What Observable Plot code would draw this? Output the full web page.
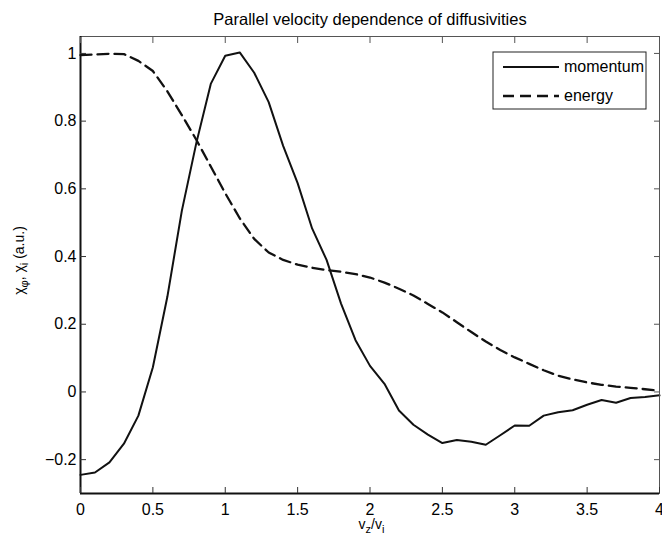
<!DOCTYPE html>
<html><head><meta charset="utf-8">
<script src="https://cdn.jsdelivr.net/npm/d3@7"></script>
<script src="https://cdn.jsdelivr.net/npm/@observablehq/plot@0.6"></script>
<style>body{margin:0;background:#fff}</style>
</head><body><div id="chart"></div>
<script>
const vz = [0,0.1,0.2,0.3,0.4,0.5,0.6,0.7,0.8,0.9,1.0,1.1,1.2,1.3,1.4,1.5,1.6,1.7,1.8,1.9,2.0,
            2.1,2.2,2.3,2.4,2.5,2.6,2.7,2.8,2.9,3.0,3.1,3.2,3.3,3.4,3.5,3.6,3.7,3.8,3.9,4.0];
const momentum = [-0.245,-0.238,-0.208,-0.153,-0.070,0.073,0.281,0.535,0.735,0.910,0.993,
                  1.003,0.943,0.856,0.727,0.617,0.483,0.390,0.261,0.153,0.077,
                  0.024,-0.055,-0.097,-0.126,-0.151,-0.142,-0.147,-0.156,-0.128,-0.099,
                  -0.100,-0.070,-0.060,-0.054,-0.038,-0.024,-0.032,-0.018,-0.015,-0.010];
const energy = [0.995,0.997,0.999,0.998,0.978,0.948,0.888,0.818,0.745,0.666,0.587,
                0.513,0.452,0.412,0.390,0.376,0.367,0.360,0.355,0.348,0.338,
                0.323,0.305,0.285,0.260,0.235,0.206,0.177,0.149,0.124,0.102,
                0.083,0.064,0.048,0.037,0.028,0.021,0.016,0.012,0.008,0.004];
const seriesNames = ["momentum", "energy"];
const xTicks = [0,0.5,1,1.5,2,2.5,3,3.5,4];
const yTicks = [-0.2,0,0.2,0.4,0.6,0.8,1];
const xDomain = [0,4];
const yDomain = [-0.3,1.05];
const title = "Parallel velocity dependence of diffusivities";

const rows = vz.map((v,i)=>({v, momentum: momentum[i], energy: energy[i]}));
const FONT = "'Liberation Sans', Arial, Helvetica, sans-serif";
const fmt = d => String(d).replace("-", "\u2212");

const chart = Plot.plot({
  width: 662, height: 537,
  marginLeft: 80, marginRight: 3, marginTop: 36, marginBottom: 44,
  style: {fontFamily: FONT, fontSize: "16px", color: "#000", background: "#fff"},
  x: {domain: xDomain},
  y: {domain: yDomain},
  marks: [
    Plot.line(rows, {x: "v", y: "energy", stroke: "#111", strokeWidth: 2.3, strokeDasharray: "11,6"}),
    Plot.line(rows, {x: "v", y: "momentum", stroke: "#111", strokeWidth: 2}),
    Plot.frame({stroke: "#555", strokeWidth: 1}),
    Plot.ruleX([xDomain[0]], {stroke: "#111", strokeWidth: 2}),
    Plot.ruleY([yDomain[0]], {stroke: "#111", strokeWidth: 2}),
    Plot.axisX(xTicks, {anchor: "bottom", tickSize: 6, dy: -6, fill: "none", stroke: "#333", label: null}),
    Plot.axisX(xTicks, {anchor: "top", tickSize: 6, dy: 6, fill: "none", stroke: "#555", label: null}),
    Plot.axisY(yTicks, {anchor: "left", tickSize: 6, dx: 6, fill: "none", stroke: "#333", label: null}),
    Plot.axisY(yTicks, {anchor: "right", tickSize: 6, dx: -6, fill: "none", stroke: "#555", label: null}),
    Plot.axisX(xTicks, {anchor: "bottom", tickSize: 0, tickPadding: 10, label: null, fontSize: 16, tickFormat: fmt}),
    Plot.axisY(yTicks, {anchor: "left", tickSize: 0, tickPadding: 4, label: null, fontSize: 16, tickFormat: fmt}),
    Plot.text([title], {text: d => d, frameAnchor: "top", dy: -12, lineAnchor: "bottom", fontSize: 16.5})
  ]
});
document.getElementById("chart").appendChild(chart);

const svg = d3.select(chart);
const sx = chart.scale("x"), sy = chart.scale("y");
const fx0 = sx.range[0], fx1 = sx.range[1];
const fyB = sy.range[0], fyT = sy.range[1];

// subscript-capable label helper
function richText(g, parts, size, subSize) {
  const t = g.append("text").attr("text-anchor", "middle").attr("font-family", FONT)
    .attr("font-size", size).attr("fill", "#000");
  let shifted = false;
  parts.forEach(([s, sub]) => {
    const ts = t.append("tspan").text(s);
    if (sub) { ts.attr("font-size", subSize).attr("dy", shifted ? 0 : 4); shifted = true; }
    else { ts.attr("dy", shifted ? -4 : 0); shifted = false; }
  });
  return t;
}
// y label
const gy = svg.append("g").attr("transform", `translate(${fx0 - 60},${(fyB + fyT) / 2 - 4}) rotate(-90)`);
richText(gy, [["χ"],["φ",1],[", χ"],["i",1],[" (a.u.)"]], 14, 11).attr("y", 4);
// x label
const gx = svg.append("g").attr("transform", `translate(${(fx0 + fx1) / 2 + 2},${fyB + 36})`);
richText(gx, [["v"],["z",1],["/v"],["i",1]], 14, 11);

// legend
const lg = svg.append("g");
const bx1 = fx1 - 13, by0 = fyT + 16, bw = 153, bh = 57;
lg.append("rect").attr("x", bx1 - bw).attr("y", by0).attr("width", bw).attr("height", bh)
  .attr("fill", "#fff").attr("stroke", "#222").attr("stroke-width", 1);
seriesNames.forEach((name, i) => {
  const yy = by0 + 15 + i * 29;
  lg.append("line").attr("x1", bx1 - bw + 10).attr("x2", bx1 - bw + 66).attr("y1", yy).attr("y2", yy)
    .attr("stroke", "#111").attr("stroke-width", i ? 2.3 : 2).attr("stroke-dasharray", i ? "11,6" : null);
  lg.append("text").attr("x", bx1 - bw + 71).attr("y", yy).attr("dy", "0.33em")
    .attr("text-anchor", "start")
    .attr("font-family", FONT).attr("font-size", 16).attr("fill", "#000").text(name);
});
</script>
</body></html>
